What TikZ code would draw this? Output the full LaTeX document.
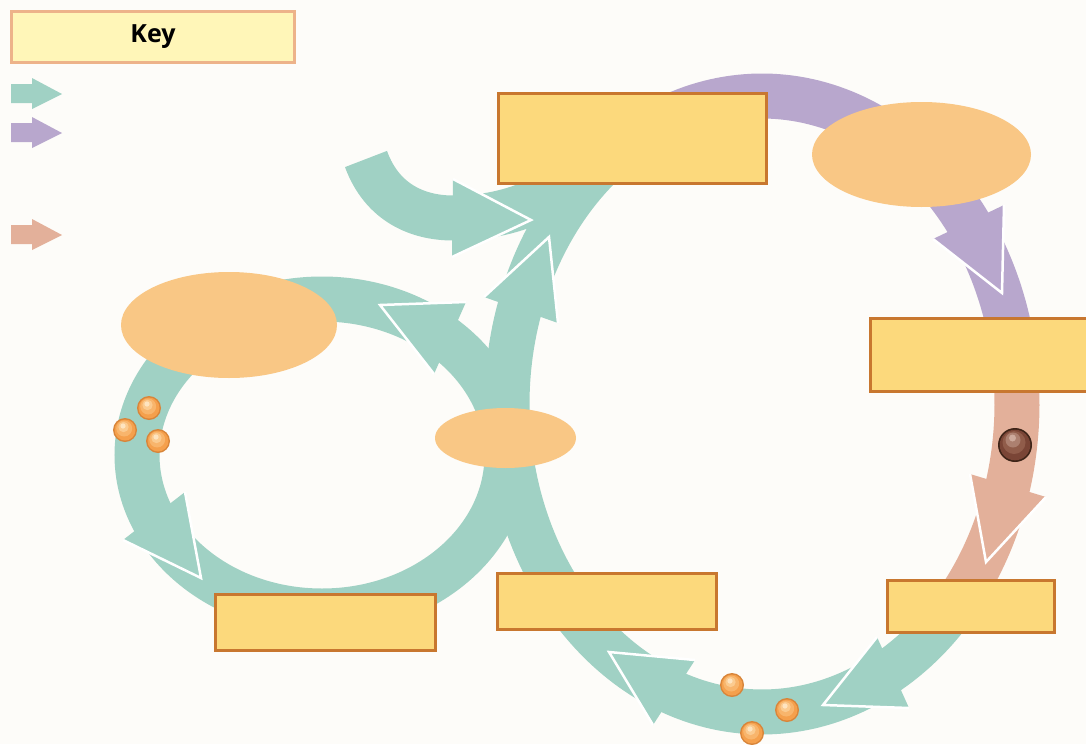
\documentclass[tikz,border=0pt]{standalone}
\usepackage{fontspec}
\newfontfamily\keyfont{Open Sans}
\usetikzlibrary{shapes.geometric}

\definecolor{paper}{HTML}{FDFCF9}
\definecolor{tealband}{HTML}{A0D1C4}
\definecolor{lilac}{HTML}{B8A7CD}
\definecolor{clay}{HTML}{E3B09A}
\definecolor{boxfill}{HTML}{FCD97C}
\definecolor{boxedge}{HTML}{C8772F}
\definecolor{keyfill}{HTML}{FFF6B8}
\definecolor{keyedge}{HTML}{EDB38A}
\definecolor{ovalfill}{HTML}{F9C785}
\definecolor{seedrim}{HTML}{D8853A}
\definecolor{seedA}{HTML}{F5A04C}
\definecolor{seedB}{HTML}{F8B56C}
\definecolor{seedC}{HTML}{FBCB90}
\definecolor{seedD}{HTML}{FEE4C0}
\definecolor{nutrim}{HTML}{3E2418}
\definecolor{nutA}{HTML}{7A4536}
\definecolor{nutB}{HTML}{905C4A}
\definecolor{nutC}{HTML}{AC8070}
\definecolor{nutD}{HTML}{CDAA9C}

\tikzset{
  band/.style={line width=45, line cap=butt},
  labelbox/.style={draw=boxedge, fill=boxfill, line width=3, rectangle, inner sep=0pt},
  oval/.style={ellipse, fill=ovalfill, inner sep=0pt},
  headedge/.style={white, line width=2.5, line join=miter},
}

% filled arrow head (colour, wing, tip, wing) with white outline on its two sides
\newcommand\bandhead[4]{%
  \fill[#1] #2 -- #3 -- #4 -- cycle;
  \draw[headedge] #2 -- #3 -- #4;}

% small orange sphere at (x,y), lit from above
\newcommand\seedat[2]{%
  \fill[seedrim] (#1,#2) circle (12);
  \fill[seedA] (#1,#2) circle (10.5);
  \fill[seedB] ({#1-0.8},{#2-1.5}) circle (8);
  \fill[seedC] ({#1-1.5},{#2-3}) circle (5.2);
  \fill[seedD] ({#1-2},{#2-4}) circle (2.6);}

\begin{document}
\begin{tikzpicture}[x=1pt, y=-1pt]
\clip (0,0) rectangle (1086,744);
\fill[paper] (0,0) rectangle (1086,744);

% ---- left cycle: full ring
\draw[band, tealband] (322,455) ellipse [x radius=185, y radius=156];

% ---- right cycle: teal, lilac and clay parts of one ring
\draw[band, tealband] plot[domain=40:240, samples=140, variable=\t]
  ({762+255*cos(\t)},{404+308*sin(\t)});
\draw[band, lilac] plot[domain=240:350, samples=80, variable=\t]
  ({762+255*cos(\t)},{404+308*sin(\t)});
\draw[band, clay] plot[domain=350:400, samples=40, variable=\t]
  ({762+255*cos(\t)},{404+308*sin(\t)});

% ---- incoming band from the upper left
\coordinate (inStart) at (366,159);
\coordinate (inMid) at (453,218);
\coordinate (inEnd) at (590,165);
\draw[band, tealband] (inStart) .. controls (382,203) and (418,218) .. (inMid)
  .. controls (500,218) and (545,205) .. (inEnd);

% ---- arrow heads
\bandhead{tealband}{(466,302)}{(380,305)}{(434,374)}
\bandhead{tealband}{(185,492)}{(201,578)}{(123,540)}
\bandhead{tealband}{(484,297)}{(549,237)}{(558,323)}
\bandhead{tealband}{(453,179)}{(531,220)}{(452,257)}
\bandhead{lilac}{(1004,205)}{(1002,293)}{(933,239)}
\bandhead{clay}{(970,474)}{(986,562)}{(1046,497)}
\bandhead{tealband}{(877,637)}{(823,705)}{(909,708)}
\bandhead{tealband}{(695,660)}{(609,652)}{(653,725)}

% ---- ovals
\node[oval, minimum width=219, minimum height=105] (ovalRight) at (921.5,154.5) {};
\node[oval, minimum width=216, minimum height=106] (ovalLeft) at (229,325) {};
\node[oval, minimum width=141, minimum height=60] (ovalMid) at (505.5,438) {};

% ---- label boxes
\node[labelbox, minimum width=268, minimum height=90] (boxTop) at (632.5,138.5) {};
\node[labelbox, minimum width=230, minimum height=73] (boxRight) at (985,355) {};
\node[labelbox, minimum width=167, minimum height=52] (boxLowRight) at (971,606.5) {};
\node[labelbox, minimum width=219, minimum height=56] (boxLowMid) at (607,601.5) {};
\node[labelbox, minimum width=220, minimum height=56] (boxLowLeft) at (325.5,622.5) {};

% ---- spheres
\seedat{149}{408}
\seedat{125}{430}
\seedat{158}{441}
\seedat{732}{685}
\seedat{787}{710}
\seedat{752}{733}
\fill[nutrim] (1015,445) circle (17);
\fill[nutA] (1015,445) circle (15.3);
\fill[nutB] (1014,442.5) circle (11.5);
\fill[nutC] (1013,440) circle (7.5);
\fill[nutD] (1012.5,438) circle (3.5);

% ---- key
\node[draw=keyedge, fill=keyfill, line width=3, minimum width=283, minimum height=51,
  inner sep=0pt, font=\keyfont\bfseries\fontsize{25}{30}\selectfont] (key) at (153,37) {Key};
\fill[tealband] (11,84) -- (32,84) -- (32,78) -- (62,94) -- (32,109) -- (32,103) -- (11,103) -- cycle;
\fill[lilac] (11,123) -- (32,123) -- (32,117) -- (62,133) -- (32,148) -- (32,142) -- (11,142) -- cycle;
\fill[clay] (11,225) -- (32,225) -- (32,219) -- (62,235) -- (32,250) -- (32,244) -- (11,244) -- cycle;
\end{tikzpicture}
\end{document}
